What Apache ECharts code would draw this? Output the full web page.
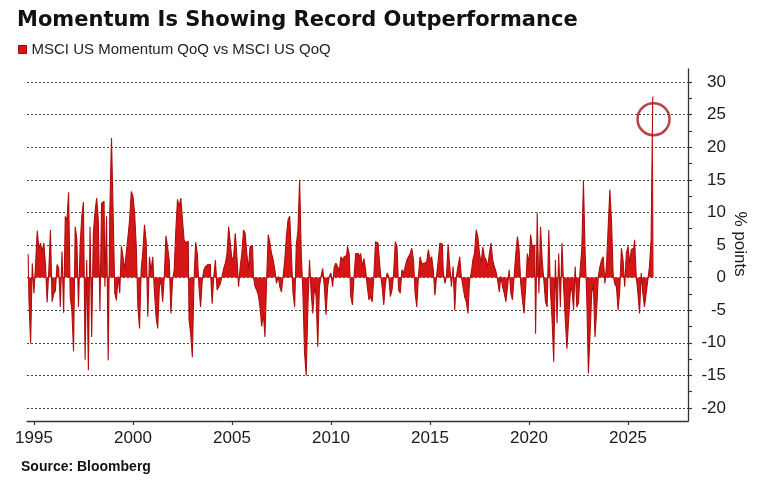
<!DOCTYPE html>
<html><head><meta charset="utf-8">
<script src="https://cdn.jsdelivr.net/npm/echarts@6/dist/echarts.min.js"></script>
<style>html,body{margin:0;padding:0;background:#fff}#c{width:771px;height:489px}</style>
</head><body><div id="c"></div>
<script>
// Monthly readings, Sep 1994 .. Apr 2026 (% points)
const startYear = 1994, startMonth = 9;
const values = [
  3.6, -3.7, -10.1, 2.2,
  -2.4, 2, 7.2, 4.5, 5.3, 4, 5.3, 2, -3.8, 1, 7.3, -3.7,
  -2.5, -2, 2, 1.5, -4.5, 4, -5.4, 9.4, 8.7, 13.1, -3, -5,
  -11.3, 7.8, 6, -4.5, 5, 9.4, 11.6, -12.6, 2.7, -14.2, 7.8, -9.1,
  6.8, 10, 12.2, 8.9, -5, 11.4, 11.7, -1.4, 9.4, -12.7, 10.4, 21.4,
  10, -2.4, -3.5, 0.2, -2.4, 4.8, 3.2, 1.2, 4, 6.3, 8.9, 13.2,
  12.5, 10, 4.8, -4.5, -7.8, 1.2, 4, 8.1, 5.6, -6, 3.2, 1,
  3.2, -2, -6, -7.8, -1.4, -0.4, -3.7, 0.2, 6.4, 4.7, 2.7, -5.5,
  -0.4, 1.2, 7.3, 12, 10.9, 12.2, 8.9, 5.8, 5.3, 5.6, -6.5, -8.6,
  -12.2, -0.4, 5.4, 3.7, -1.4, -4.5, -0.4, 1.2, 1.7, 2, 2, 0.9,
  -4, 0.2, 2.7, -1.9, -1.4, -0.9, 0.2, 1.4, 2.2, 3.7, 7.8, 5.3,
  2.7, 3.2, 6.8, 3.2, -1.4, 1.7, 3.7, 7.3, 6.8, 3.7, 1.2, 4.8,
  4.8, 0.2, -1.4, -1.9, -2.7, -4.5, -7.5, -5.5, -9.1, -0.4, 6.6, 5.3,
  3.7, 2.7, 1.2, -0.9, 0.2, -1.4, -2.2, 0.2, 2.7, 6.3, 8.9, 9.4,
  3.7, -2.4, -4.5, 5, 7.3, 15, 3.7, -2.4, -11.6, -15, -4.5, 2.7,
  -2.4, -5.5, -1.4, -2.9, -10.6, -1.4, 0.2, 1.4, -1.4, -5.7, -1.4, 0.2,
  0.7, -1.4, 1.7, 2.2, 1.7, 0.9, 3.2, 2.7, 3.2, 3.4, 4.8, 3.7,
  -2.9, -4.2, 0.2, 3.7, 3.7, 3.2, 3.7, 1.7, 2.9, 1.2, -1.4, -3.4,
  -2.9, -3.7, 0.2, 5.5, 5.3, 3.7, 0.7, -1.4, -4.2, -0.9, 0.7, 0.2,
  -2.9, -1.9, 0.7, 5.5, 4.8, -1.9, -2.4, 1.2, 0.7, 1.7, 2.7, 3.2,
  3.7, 4.5, 2.7, -2.4, -4.5, 0.2, 3.2, 2.2, 2.2, 2.4, 2.4, 4.3,
  2.7, 3.2, 1.2, -2.7, 0.2, 2.7, 5.3, 5.1, 1.2, -0.9, 0.2, 5.1,
  1.7, -1.4, 1.7, -5, 0.2, 1.7, 3.2, 0.2, -1.4, -2.9, -3.7, -5.5,
  -0.4, 0.7, 2.7, 3.7, 7.3, 6.3, 3.7, 2.2, 4.7, 3.2, 2.7, 1.7,
  3.7, 5.3, 2.7, 1.7, 0.9, -0.4, -2.2, 0.2, -1.4, -2.4, -3.7, -1.4,
  1.2, -2.4, -3.4, 0.2, 3.7, 6.3, 4.3, -0.9, -3.4, -5.5, -1.4, 3.7,
  2.2, 6.6, 4.7, 5, -8.6, 9.9, -2.4, 7.8, 2.7, -0.4, -3.7, -4.5,
  7.3, -2, -6.5, -12.9, 2.7, -7, 3.7, -4.5, 5.3, -1.4, -6.5, -10.9,
  -6.5, -2.4, -1.4, -5, 1.7, -4.5, -3.9, 1.2, 4.3, 14.8, 4, -2.9,
  -14.7, -8.6, -2.4, -1, -9.1, -5, 0.2, 1.7, 2.7, 3.2, -0.9, 2,
  7.8, 13.5, 8.7, 0.5, -1, -1.4, -5, -2, 4.5, 2.7, -1.4, 3.7,
  4.8, 2.2, 4.3, 4.5, 5.8, 0.2, -2.4, -5.5, 0.7, -2.4, -4.5, -2.4,
  -0.4, 1.7, 5.8, 27.7
];
const yearTicks = [1995, 2000, 2005, 2010, 2015, 2020, 2025];
const yLabelValues = [-20, -15, -10, -5, 0, 5, 10, 15, 20, 25, 30];
const yTickValues = [-20, -17.5, -15, -12.5, -10, -7.5, -5, -2.5, 0, 2.5, 5, 7.5, 10, 12.5, 15, 17.5, 20, 22.5, 25, 27.5, 30];
const gridValues = [-20, -15, -10, -5, 0, 5, 10, 15, 20, 25, 30];
const highlight = [[2026.29, 24.3]];
const seriesName = 'MSCI US Momentum QoQ vs MSCI US QoQ';
const titleText = 'Momentum Is Showing Record Outperformance';
const sourceText = 'Source: Bloomberg';
const unitText = '% points';

const data = values.map((v, i) => [startYear + (startMonth - 1 + i) / 12 + 1 / 24, v]);

const chart = echarts.init(document.getElementById('c'), null, {renderer: 'canvas'});
const axisColor = '#333';
const labelFont = 'Liberation Sans, Arial, sans-serif';
chart.setOption({
  animation: false,
  backgroundColor: '#fff',
  title: {
    text: titleText, left: 17, top: 10, padding: 0,
    textStyle: {fontFamily: 'DejaVu Sans', fontWeight: 'bold', fontSize: 21, color: '#111'}
  },
  legend: {
    data: [seriesName], left: 18, top: 42, padding: 0, icon: 'rect',
    itemWidth: 8, itemHeight: 8, selectedMode: false,
    itemStyle: {color: '#d41616', borderColor: '#a00', borderWidth: 1},
    textStyle: {fontSize: 15, fontFamily: labelFont, color: '#222'}
  },
  grid: {left: 27, right: 83, top: 69, bottom: 68},
  xAxis: {
    type: 'value', min: 1994.65, max: 2028.03,
    axisLine: {show: true, onZero: false, lineStyle: {color: axisColor, width: 1.3}},
    axisTick: {show: true, customValues: yearTicks, length: 4, lineStyle: {color: axisColor, width: 1.2}},
    axisLabel: {customValues: yearTicks, formatter: v => String(v), fontSize: 17, color: '#1a1a1a', fontFamily: labelFont, margin: 9},
    splitLine: {show: false}
  },
  yAxis: {
    type: 'value', position: 'right', min: -22, max: 32,
    axisLine: {show: true, onZero: false, lineStyle: {color: axisColor, width: 1.3}},
    axisTick: {show: true, customValues: yTickValues, length: 4, lineStyle: {color: axisColor, width: 1.2}},
    axisLabel: {customValues: yLabelValues, formatter: v => String(v), align: 'right', margin: 38, fontSize: 17, color: '#1a1a1a', fontFamily: labelFont},
    splitLine: {show: false}
  },
  graphic: [
    {type: 'text', left: 21, top: 460, style: {text: sourceText, fontFamily: labelFont, fontWeight: 'bold', fontSize: 14, fill: '#111'}},
    {type: 'text', x: 740, y: 244, rotation: -Math.PI / 2,
     style: {text: unitText, fontFamily: labelFont, fontSize: 17, fill: '#1a1a1a', align: 'center', verticalAlign: 'middle'}}
  ],
  series: [
    {
      name: 'grid', type: 'line', data: [], silent: true, z: 1,
      markLine: {
        silent: true, z: 1, symbol: ['none', 'none'], label: {show: false},
        lineStyle: {color: '#444', type: [2, 2], width: 1},
        data: gridValues.map(v => ({yAxis: v}))
      }
    },
    {
      name: seriesName, type: 'line', data: data, symbol: 'none', z: 3, step: 'middle',
      lineStyle: {color: '#b00d0d', width: 1.1},
      itemStyle: {color: '#d41616'},
      areaStyle: {color: '#d41616', origin: 0, opacity: 1}
    },
    {
      name: 'highlight', type: 'scatter', data: highlight, symbol: 'circle', symbolSize: 32,
      silent: true, z: 5,
      itemStyle: {color: 'rgba(0,0,0,0)', borderColor: '#a8141a', borderWidth: 2.5}
    }
  ]
});
</script></body></html>
